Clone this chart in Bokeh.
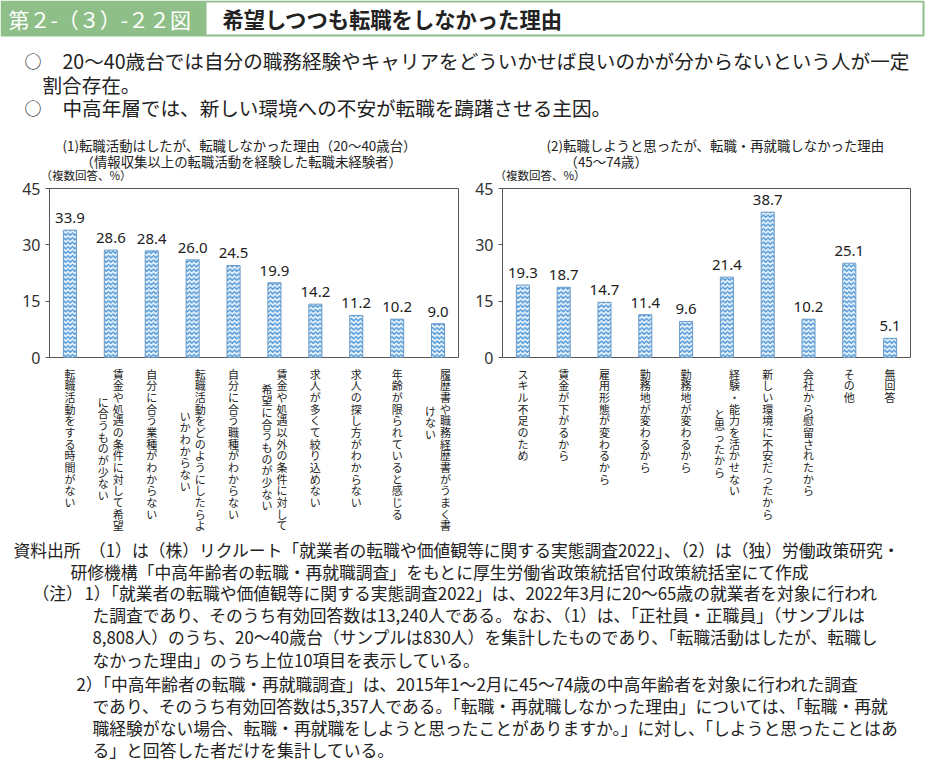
from bokeh.plotting import figure
from bokeh.models import Range1d, FactorRange, ColumnDataSource, LabelSet, FixedTicker
from bokeh.layouts import column, row
from bokeh.embed import file_html
from bokeh.resources import INLINE
from bokeh.core.properties import value

# ---------------- data ----------------
fig_label = "第２-（３）-２２図"
fig_title = "希望しつつも転職をしなかった理由"
summary_1a = "20～40歳台では自分の職務経験やキャリアをどういかせば良いのかが分からないという人が一定"
summary_1b = "割合存在。"
summary_2 = "中高年層では、新しい環境への不安が転職を躊躇させる主因。"

left_title = ["(1)転職活動はしたが、転職しなかった理由（20～40歳台）",
              "（情報収集以上の転職活動を経験した転職未経験者）"]
left_labels = ["転職活動をする時間がない",
               "賃金や処遇の条件に対して希望|に合うものが少ない",
               "自分に合う業種がわからない",
               "転職活動をどのようにしたらよ|いかわからない",
               "自分に合う職種がわからない",
               "賃金や処遇以外の条件に対して|希望に合うものが少ない",
               "求人が多くて絞り込めない",
               "求人の探し方がわからない",
               "年齢が限られていると感じる",
               "履歴書や職務経歴書がうまく書|けない"]
left_values = [33.9, 28.6, 28.4, 26.0, 24.5, 19.9, 14.2, 11.2, 10.2, 9.0]

right_title = ["(2)転職しようと思ったが、転職・再就職しなかった理由",
               "（45～74歳）"]
right_labels = ["スキル不足のため",
                "賃金が下がるから",
                "雇用形態が変わるから",
                "勤務地が変わるから",
                "勤務地が変わるから",
                "経験・能力を活かせない|と思ったから",
                "新しい環境に不安だったから",
                "会社から慰留されたから",
                "その他",
                "無回答"]
right_values = [19.3, 18.7, 14.7, 11.4, 9.6, 21.4, 38.7, 10.2, 25.1, 5.1]

unit_label = "（複数回答、%）"
y_ticks = [0, 15, 30, 45]

notes = [
    "資料出所　（1）は（株）リクルート「就業者の転職や価値観等に関する実態調査2022」、（2）は（独）労働政策研究・",
    "研修機構「中高年齢者の転職・再就職調査」をもとに厚生労働省政策統括官付政策統括室にて作成",
    "（注）",
    "1）「就業者の転職や価値観等に関する実態調査2022」は、2022年3月に20～65歳の就業者を対象に行われ",
    "た調査であり、そのうち有効回答数は13,240人である。なお、（1）は、「正社員・正職員」（サンプルは",
    "8,808人）のうち、20～40歳台（サンプルは830人）を集計したものであり、「転職活動はしたが、転職し",
    "なかった理由」のうち上位10項目を表示している。",
    "2）「中高年齢者の転職・再就職調査」は、2015年1～2月に45～74歳の中高年齢者を対象に行われた調査",
    "であり、そのうち有効回答数は5,357人である。「転職・再就職しなかった理由」については、「転職・再就",
    "職経験がない場合、転職・再就職をしようと思ったことがありますか。」に対し、「しようと思ったことはあ",
    "る」と回答した者だけを集計している。",
]

# ---------------- style / layout ----------------
JP = "Noto Sans CJK JP"
NUM = "Noto Sans"
INK = "#222222"
GREEN = "#8fbf88"
W = 925
LW, RW = 466, 459          # widths of the two chart columns
CH_TOP, CH_H = 182, 183    # chart figure top and height
STRIP_H = 175
NOTES_H = 226


def blank(width, height):
    p = figure(width=width, height=height, x_range=Range1d(0, width), y_range=Range1d(height, 0),
               x_axis_type=None, y_axis_type=None, toolbar_location=None, output_backend="svg",
               min_border=0, outline_line_color=None)
    p.background_fill_color = "white"
    p.border_fill_color = "white"
    return p


def put(p, x, y, txt, size, color=INK, style="normal", align="left"):
    p.text(x=[x], y=[y], text=[txt], text_font=value(JP), text_font_size=size,
           text_color=color, text_baseline="middle", text_align=align, text_font_style=style)


# header, summary and chart titles
hdr = blank(W, CH_TOP)
hdr.quad(left=205, right=923, top=1, bottom=35, fill_color="white", line_color=GREEN, line_width=2)
hdr.quad(left=0, right=205, top=0, bottom=36, fill_color=GREEN, line_color=None)
put(hdr, 8, 18, fig_label, "21px", color="white")
put(hdr, 222, 18, fig_title, "21.3px", style="bold")
put(hdr, 24, 60, "○", "17px")
put(hdr, 62, 60, summary_1a, "19.6px")
put(hdr, 42, 84, summary_1b, "19.6px")
put(hdr, 24, 107, "○", "17px")
put(hdr, 62, 107, summary_2, "19.6px")
put(hdr, 62, 144, left_title[0], "13.4px")
put(hdr, 80, 160, left_title[1], "13.4px")
put(hdr, 40, 174, unit_label, "11.5px")
put(hdr, 546, 144, right_title[0], "13.4px")
put(hdr, 564, 160, right_title[1], "13.4px")
put(hdr, 494, 174, unit_label, "11.5px")


def make_chart(labels, values, drops, width, bl, br):
    keys = [f"{i + 1}:{lab.replace('|', '')}" for i, lab in enumerate(labels)]
    p = figure(width=width, height=CH_H, x_range=FactorRange(*keys), y_range=Range1d(0, 45),
               x_axis_location=None, toolbar_location=None, output_backend="svg",
               min_border_left=bl, min_border_right=br, min_border_top=6, min_border_bottom=8)
    p.background_fill_color = "white"
    p.border_fill_color = "white"
    p.outline_line_color = "#555555"
    p.outline_line_width = 1
    p.grid.visible = False
    ax = p.yaxis[0]
    ax.ticker = FixedTicker(ticks=y_ticks)
    ax.axis_line_color = None
    ax.major_tick_out = 4
    ax.major_tick_in = 0
    ax.major_tick_line_color = "#555555"
    ax.minor_tick_line_color = None
    ax.major_label_standoff = 5
    ax.major_label_text_font = NUM
    ax.major_label_text_font_size = "16px"
    ax.major_label_text_color = "#333333"

    src = ColumnDataSource(dict(key=keys, val=values, vtxt=[f"{v:.1f}" for v in values]))
    p.vbar(x="key", top="val", width=0.32, source=src, fill_color="#e4f0fa",
           hatch_pattern="horizontal_wave", hatch_color="#3a8bd2", hatch_scale=4.5,
           hatch_weight=1.2, line_color="#6b9bc8", line_width=1)
    p.add_layout(LabelSet(x="key", y="val", text="vtxt", source=src, y_offset=7,
                          text_align="center", text_baseline="bottom",
                          text_font=value(NUM), text_font_size="15px", text_color=INK))

    # strip below the chart with vertical (stacked-character) category labels
    s = figure(width=width, height=STRIP_H, x_range=p.x_range, y_range=Range1d(STRIP_H, 0),
               x_axis_location=None, y_axis_location=None, toolbar_location=None,
               output_backend="svg", min_border_left=bl, min_border_right=br,
               min_border_top=0, min_border_bottom=0, outline_line_color=None)
    s.background_fill_color = "white"
    s.border_fill_color = "white"
    s.grid.visible = False
    cx, cy, ct, cxo = [], [], [], []
    for k, lab, d in zip(keys, labels, drops):
        parts = lab.split("|")
        for j, part in enumerate(parts):
            cx.append(k)
            cy.append(0 + (d if j == 1 else 0))
            ct.append("\n".join(part))
            cxo.append(0 if len(parts) == 1 else (7.5 if j == 0 else -7.5))
    s.text(x="x", y="y", text="t", x_offset="xo",
           source=ColumnDataSource(dict(x=cx, y=cy, t=ct, xo=cxo)),
           text_align="center", text_baseline="top", text_font=value(JP),
           text_font_size="11px", text_line_height=0.73, text_color=INK)
    return p, s


left, left_strip = make_chart(left_labels, left_values, [0, 28, 0, 42, 0, 15, 0, 0, 0, 37], LW, 49, 8)
right, right_strip = make_chart(right_labels, right_values, [0, 0, 0, 0, 0, 40, 0, 0, 0, 0], RW, 36, 15)

# notes
nts = blank(W, NOTES_H)
note_pos = [(13, 9), (70, 31), (32, 52), (84, 52), (92, 74), (92, 96), (92, 119),
            (76, 143), (92, 165), (92, 187), (92, 209)]
for txt, (x, y) in zip(notes, note_pos):
    put(nts, x, y, txt, "16.8px")

layout = column(hdr, row(left, right, spacing=0), row(left_strip, right_strip, spacing=0), nts,
                spacing=0)
open("out.html", "w").write(file_html(layout, INLINE))
